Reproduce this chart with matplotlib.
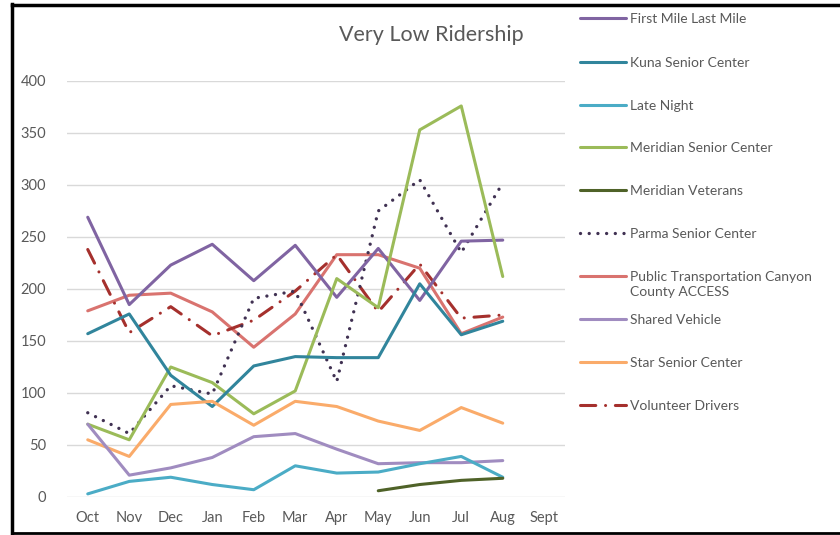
import matplotlib
matplotlib.use("Agg")
import matplotlib.pyplot as plt
from matplotlib.lines import Line2D

plt.rcParams['font.family'] = ['Lato', 'DejaVu Sans']

months = ["Oct", "Nov", "Dec", "Jan", "Feb", "Mar", "Apr", "May", "Jun", "Jul", "Aug", "Sept"]

first_mile = [269, 185, 223, 243, 208, 242, 192, 239, 189, 246, 247]
kuna = [157, 176, 117, 87, 126, 135, 134, 134, 205, 156, 169]
late_night = [3, 15, 19, 12, 7, 30, 23, 24, 32, 39, 19]
meridian_senior = [70, 55, 125, 110, 80, 102, 210, 182, 353, 376, 212]
meridian_veterans = [None, None, None, None, None, None, None, 6, 12, 16, 18]
parma = [81, 61, 107, 99, 191, 198, 111, 275, 305, 235, 302]
public_transport = [179, 194, 196, 178, 144, 176, 233, 233, 220, 157, 173]
shared_vehicle = [70, 21, 28, 38, 58, 61, 46, 32, 33, 33, 35]
star_senior = [55, 39, 89, 92, 69, 92, 87, 73, 64, 86, 71]
volunteer = [238, 158, 183, 155, 170, 198, 233, 178, 224, 172, 175]

series = [
    ("First Mile Last Mile", first_mile, "#8064A2", "-"),
    ("Kuna Senior Center", kuna, "#31859C", "-"),
    ("Late Night", late_night, "#4BACC6", "-"),
    ("Meridian Senior Center", meridian_senior, "#9BBB59", "-"),
    ("Meridian Veterans", meridian_veterans, "#4F6228", "-"),
    ("Parma Senior Center", parma, "#403152", (0, (0.01, 2.6))),
    ("Public Transportation Canyon\nCounty ACCESS", public_transport, "#D9736F", "-"),
    ("Shared Vehicle", shared_vehicle, "#A08CC0", "-"),
    ("Star Senior Center", star_senior, "#FAAB6A", "-"),
    ("Volunteer Drivers", volunteer, "#A5302D", (0, (5.0, 3.2, 0.01, 3.2))),
]
# order of drawing (later on top) roughly as in the reference
draw_order = [6, 9, 5, 0, 3, 1, 8, 7, 2, 4]

fig = plt.figure(figsize=(8.4, 5.35), dpi=100)
ax = fig.add_axes([67 / 840, 38 / 535, 498 / 840, 416 / 535])

x = list(range(len(first_mile)))
for i in draw_order:
    name, vals, col, ls = series[i]
    xs = [xi for xi, v in zip(x, vals) if v is not None]
    ys = [v for v in vals if v is not None]
    lw = 2.4 if i == 5 else 2.2
    ax.plot(xs, ys, color=col, lw=lw, linestyle=ls,
            solid_capstyle='round', dash_capstyle='round', solid_joinstyle='round', zorder=3)

ax.set_xlim(-0.5, 11.5)
ax.set_ylim(0, 400)
ax.set_yticks(range(0, 401, 50))
ax.set_xticks(range(len(months)))
ax.set_xticklabels(months)
ax.grid(axis='y', color='#D9D9D9', lw=1.0, zorder=0)
ax.tick_params(length=0, labelsize=10.5, labelcolor='#595959')
ax.tick_params(axis='y', pad=15)
ax.tick_params(axis='x', pad=10)
for s in ax.spines.values():
    s.set_visible(False)
ax.set_facecolor('none')

fig.text(431 / 840, 1 - 35 / 535, "Very Low Ridership", ha='center', va='center',
         fontsize=15.5, color='#595959')

# legend drawn by hand to match spacing
leg_y = [18, 62, 105, 147, 190, 233, 276, 319, 362, 405]
for (name, vals, col, ls), yy in zip(series, leg_y):
    yf = 1 - yy / 535
    lw = 2.4 if ls != "-" and ls[1][0] < 1 else 2.2
    fig.add_artist(Line2D([580 / 840, 626 / 840], [yf, yf], color=col, lw=lw, linestyle=ls,
                          solid_capstyle='round', dash_capstyle='round'))
    fig.text(630 / 840, 1 - (yy - 5) / 535, name, ha='left', va='top', fontsize=10,
             color='#595959', linespacing=1.25)

# chart frame
fig.add_artist(Line2D([12 / 840, 1], [1 - 4.5 / 535, 1 - 4.5 / 535], color='black', lw=2.5))
fig.add_artist(Line2D([12 / 840, 12 / 840], [1 - 4 / 535, 1 - 533 / 535], color='black', lw=2.5))
fig.add_artist(Line2D([12 / 840, 1], [1 - 533 / 535, 1 - 533 / 535], color='black', lw=2))

fig.savefig("out.png", dpi=100)
